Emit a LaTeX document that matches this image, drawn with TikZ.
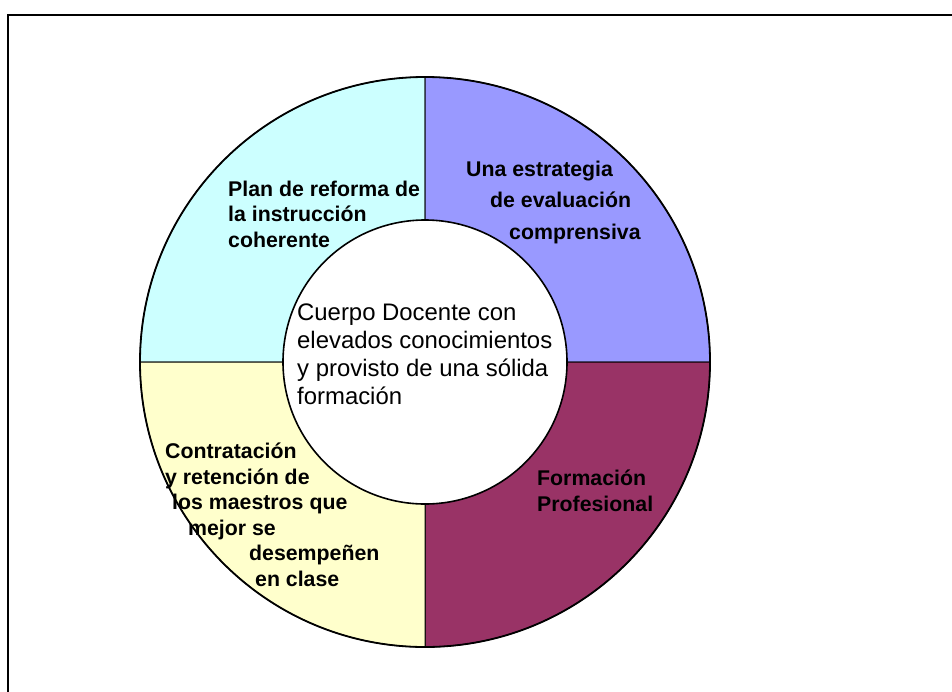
\documentclass[tikz,border=0pt]{standalone}
\usepackage{fontspec}
\setmainfont{Liberation Sans}
\usetikzlibrary{positioning}
\definecolor{celeste}{HTML}{CCFFFF}
\definecolor{lila}{HTML}{9999FF}
\definecolor{granate}{HTML}{993366}
\definecolor{crema}{HTML}{FFFFCC}

\begin{document}
\begin{tikzpicture}[x=1pt,y=1pt]
       \tikzset{quarter/.style={draw=black, line width=1pt}}

       \tikzset{sectortext/.style={anchor=base west, align=left, inner sep=0pt,
                font=\fontsize{21.3}{25.5}\selectfont\bfseries}}

       \tikzset{core/.style={circle, draw, line width=1.6pt, fill=white,
                minimum size=284pt, inner sep=0pt}}

        \useasboundingbox (0,0) rectangle (952,-691);
        \clip (0,0) rectangle (952,-691);
        \draw[line width=1.6pt] (8,-700) -- (8,-15) -- (960,-15);

        % the ring, one quarter each
        \coordinate (mid) at (425,-362);
        \foreach \a/\c in {90/celeste, 0/lila, 270/granate, 180/crema}
          \filldraw[quarter, fill=\c] (mid) -- ++(\a:285) arc[start angle=\a, end angle=\a+90, radius=285] -- cycle;
        \draw[line width=1.8pt] (mid) circle[radius=285];

        \node[core] (nucleo) at (mid) {};
        % base = last line
        \node[anchor=base west, align=left, inner sep=0pt,
              font=\fontsize{23.9}{28}\selectfont] (cuerpo) at (297,-404)
              {Cuerpo Docente con\\elevados conocimientos\\y provisto de una sólida\\formación};

        \node[sectortext] (plan) at (228,-247) {Plan de reforma de\\la instrucción\\coherente};
        \node[sectortext, font=\fontsize{21.3}{31.5}\selectfont\bfseries] (evaluacion) at (466,-239)
              {Una estrategia\\\hspace*{24pt}de evaluación\\\hspace*{43pt}comprensiva};
        \node[sectortext] (formacion) at (537,-511) {Formación\\Profesional};
        \node[sectortext] (contratacion) at (165,-586)
              {Contratación\\y retención de\\\hspace*{7pt}los maestros que\\\hspace*{23pt}mejor se\\\hspace*{84pt}desempeñen\\\hspace*{90pt}en clase};

\end{tikzpicture}
\end{document}
